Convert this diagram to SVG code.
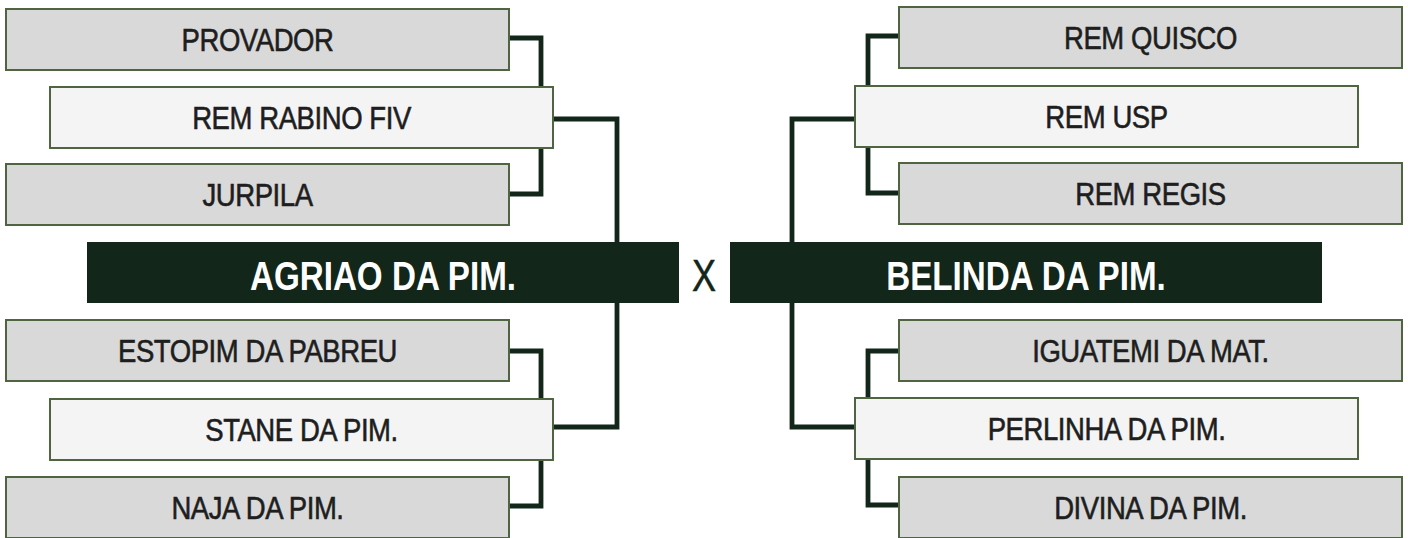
<svg xmlns="http://www.w3.org/2000/svg" width="1408" height="538" viewBox="0 0 1408 538">
<style>
.bg{fill:#ffffff}
.conn{fill:none;stroke:#12261a;stroke-width:4.8;stroke-linejoin:miter}
.g{fill:#d9d9d9;stroke:#4f6440;stroke-width:2}
.l{fill:#f4f4f4;stroke:#4f6440;stroke-width:2}
.d{fill:#12261a}
.t{font-family:"Liberation Sans",Arial,sans-serif;font-size:32px;fill:#1e1e1e;stroke:#1e1e1e;stroke-width:0.6;text-anchor:middle;letter-spacing:-0.5px}
.tb{font-family:"Liberation Sans",Arial,sans-serif;font-size:40px;font-weight:bold;fill:#ffffff;text-anchor:middle}
.x{font-family:"Liberation Sans",Arial,sans-serif;font-size:45px;fill:#12261a;stroke:#12261a;stroke-width:0.5;text-anchor:middle}
</style>
<rect class="bg" x="0" y="0" width="1408" height="538"/>
<g id="connectors">
<path class="conn" d="M509,38 H541 V194 H509"/>
<path class="conn" d="M553,119 H617 V427 H553"/>
<path class="conn" d="M509,351 H541 V506 H509"/>
<path class="conn" d="M899,36 H868 V193 H899"/>
<path class="conn" d="M855,119 H792 V427 H855"/>
<path class="conn" d="M899,351 H868 V505 H899"/>
</g>
<g id="provador"><rect class="g" x="6" y="9" width="503" height="61"/><text class="t" transform="translate(257.5,51) scale(0.86,1)">PROVADOR</text></g>
<g id="rem-rabino-fiv"><rect class="l" x="50" y="87" width="503" height="61"/><text class="t" transform="translate(301.5,129) scale(0.86,1)">REM RABINO FIV</text></g>
<g id="jurpila"><rect class="g" x="6" y="164" width="503" height="61"/><text class="t" transform="translate(257.5,206) scale(0.86,1)">JURPILA</text></g>
<g id="agriao"><rect class="d" x="87" y="242" width="592" height="61"/><text class="tb" transform="translate(383,290) scale(0.83,1)">AGRIAO DA PIM.</text></g>
<g id="x-label"><text class="x" transform="translate(704,291) scale(0.8,1)">X</text></g>
<g id="belinda"><rect class="d" x="730" y="242" width="592" height="61"/><text class="tb" transform="translate(1026,290) scale(0.83,1)">BELINDA DA PIM.</text></g>
<g id="estopim"><rect class="g" x="6" y="320" width="503" height="61"/><text class="t" transform="translate(257.5,362) scale(0.86,1)">ESTOPIM DA PABREU</text></g>
<g id="stane"><rect class="l" x="50" y="399" width="503" height="61"/><text class="t" transform="translate(301.5,441) scale(0.86,1)">STANE DA PIM.</text></g>
<g id="naja"><rect class="g" x="6" y="477" width="503" height="61"/><text class="t" transform="translate(257.5,519) scale(0.86,1)">NAJA DA PIM.</text></g>
<g id="rem-quisco"><rect class="g" x="899" y="7" width="503" height="61"/><text class="t" transform="translate(1150.5,49) scale(0.86,1)">REM QUISCO</text></g>
<g id="rem-usp"><rect class="l" x="855" y="86" width="503" height="61"/><text class="t" transform="translate(1106.5,128) scale(0.86,1)">REM USP</text></g>
<g id="rem-regis"><rect class="g" x="899" y="163" width="503" height="61"/><text class="t" transform="translate(1150.5,205) scale(0.86,1)">REM REGIS</text></g>
<g id="iguatemi"><rect class="g" x="899" y="320" width="503" height="61"/><text class="t" transform="translate(1150.5,362) scale(0.86,1)">IGUATEMI DA MAT.</text></g>
<g id="perlinha"><rect class="l" x="855" y="398" width="503" height="61"/><text class="t" transform="translate(1106.5,440) scale(0.86,1)">PERLINHA DA PIM.</text></g>
<g id="divina"><rect class="g" x="899" y="477" width="503" height="61"/><text class="t" transform="translate(1150.5,519) scale(0.86,1)">DIVINA DA PIM.</text></g>
</svg>
